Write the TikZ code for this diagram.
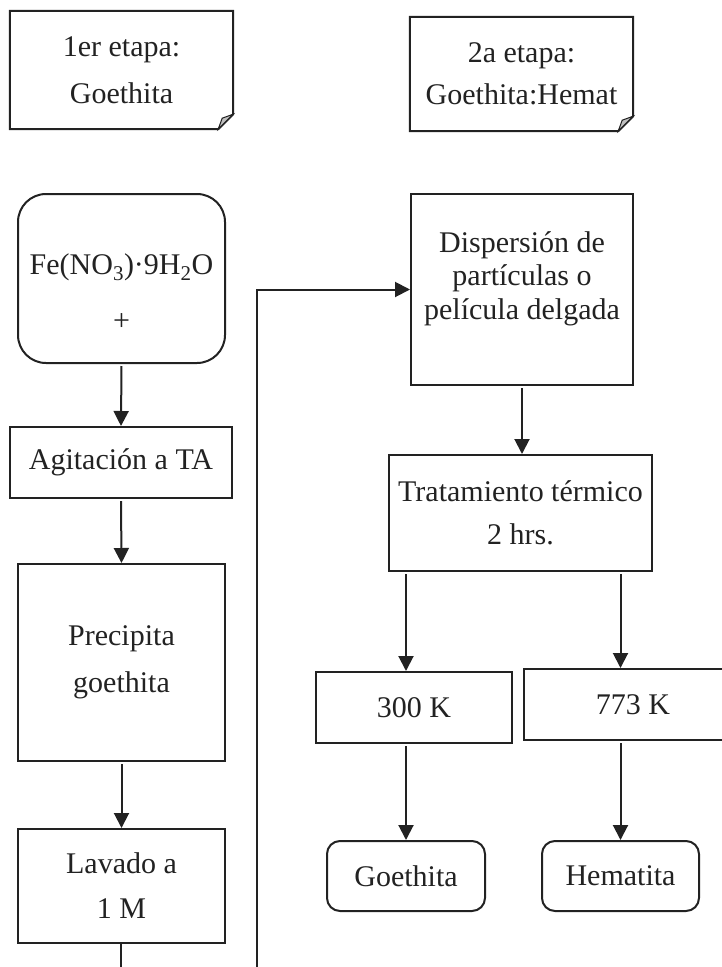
\documentclass[tikz,border=0pt]{standalone}
\usepackage{fontspec}
\setmainfont{Liberation Serif}
\usetikzlibrary{arrows.meta}

\definecolor{ink}{HTML}{222222}

\tikzset{
  box/.style={draw=ink, line width=2pt, align=center, inner sep=0pt},
  rbox/.style={box, rounded corners=13pt},
  arrow/.style={draw=ink, line width=2pt, -{Triangle[length=15pt,width=15pt]}, shorten <=2pt},
  link/.style={draw=ink, line width=2pt},
}

% outline of a note with a folded corner, around node #1
\newcommand{\notebox}[1]{%
  \draw[link] (#1.north west) -- (#1.north east)
     -- ([yshift=15pt]#1.south east) -- ([xshift=-15pt]#1.south east)
     -- (#1.south west) -- cycle;
  \filldraw[draw=ink, line width=1pt, fill=black!25] ([yshift=15pt]#1.south east)
     -- ([xshift=-11pt,yshift=11pt]#1.south east) -- ([xshift=-15pt]#1.south east) -- cycle;
}

\begin{document}
\begin{tikzpicture}[x=1pt, y=-1pt, text=ink, font=\fontsize{30}{36}\selectfont]

\useasboundingbox (0,0) rectangle (722,967);

% stage notes
\node[align=center, inner sep=0pt, minimum width=223pt, minimum height=118pt] (stage1) at (121.5,70) {1er etapa:\\[11pt]Goethita};
\notebox{stage1}
\node[align=center, inner sep=0pt, minimum width=223pt, minimum height=114pt] (stage2) at (521.5,74) {2a etapa:\\[6pt]Goethita:Hemat};
\notebox{stage2}

% first stage column
\node[rbox, rounded corners=28pt, minimum width=207pt, minimum height=169pt] (fe) at (121.5,278.5) {};
\node[align=center] (fetext) at ([yshift=-14pt]fe.center) {Fe(NO\textsubscript{3})·9H\textsubscript{2}O\\[20pt]+};
\node[box, minimum width=222pt, minimum height=71pt] (agit) at (121,462.5) {Agitación a TA};
\node[box, minimum width=207pt, minimum height=197pt] (prec) at (121.5,662.5) {Precipita\\[11pt]goethita};
\node[box, minimum width=207pt, minimum height=114pt] (wash) at (121.5,886) {Lavado a\\[9pt]1 M};

% second stage column
\node[box, minimum width=222pt, minimum height=191pt] (disp) at (522,289.5) {};
\node[align=center] (disptext) at ([yshift=11pt]disp.center) {Dispersión de\\[-2.5pt]partículas o\\[-2.5pt]película delgada};
\node[box, minimum width=263pt, minimum height=116pt] (trat) at (520.5,513) {Tratamiento térmico\\[7pt]2 hrs.};
\node[box, minimum width=196pt, minimum height=71pt] (k300) at (414,707.5) {300 K};
\node[box, minimum width=218pt, minimum height=71pt] (k773) at (633,704.5) {773 K};
\node[rbox, minimum width=158pt, minimum height=70pt] (goe) at (406,876) {Goethita};
\node[rbox, minimum width=157pt, minimum height=70pt] (hem) at (620.5,876) {Hematita};

% loose ends at the bottom edge
\coordinate (cut1) at (120.7,972);
\coordinate (cut2) at (256.7,972);

% connectors
\draw[arrow] (fe.south) -- (agit.north);
\draw[arrow] (agit.south) -- (prec.north);
\draw[arrow] (prec.south) -- (wash.north);
\draw[link] (wash.south -| cut1) -- (cut1);
\draw[arrow, shorten <=0pt] (cut2) |- (disp.west);
\draw[arrow] (disp.south) -- (disp.south |- trat.north);
\draw[arrow] (trat.south -| goe) -- (k300.north -| goe);
\draw[arrow] (trat.south -| hem) -- (k773.north -| hem);
\draw[arrow] (k300.south -| goe) -- (goe.north);
\draw[arrow] (k773.south -| hem) -- (hem.north);

\end{tikzpicture}
\end{document}
